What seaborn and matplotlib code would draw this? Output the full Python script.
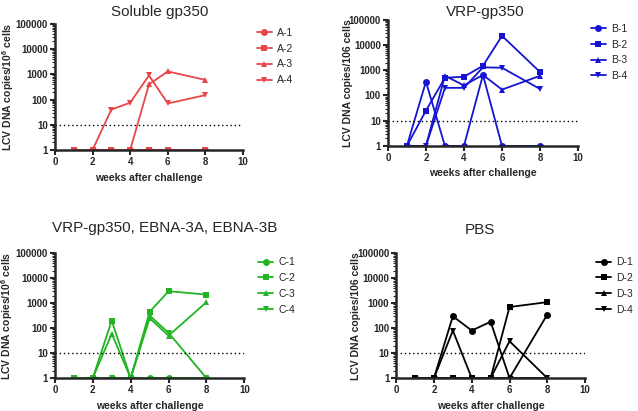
import numpy as np
import pandas as pd
import matplotlib
matplotlib.use("Agg")
import matplotlib.pyplot as plt
import seaborn as sns
from matplotlib.ticker import LogLocator, FixedLocator, FixedFormatter

sns.set_style("ticks")
plt.rcParams['font.family'] = ['Liberation Sans', 'DejaVu Sans']
plt.rcParams['mathtext.fontset'] = 'custom'
plt.rcParams['mathtext.rm'] = 'Liberation Sans:bold'
plt.rcParams['mathtext.bf'] = 'Liberation Sans:bold'

weeks = [1, 2, 3, 4, 5, 6, 8]

# Soluble gp350
a1 = [1, 1, 1, 1, 1, 1, 1]
a2 = [1, 1, 1, 1, 1, 1, 1]
a3 = [1, 1, 1, 1, 400, 1300, 600]
a4 = [1, 1, 40, 75, 900, 70, 150]

# VRP-gp350
b1 = [1, 350, 1, 1, 650, 1, 1]
b2 = [1, 25, 500, 550, 1500, 23000, 850]
b3 = [1, 1, 600, 250, 650, 170, 600]
b4 = [1, 1, 200, 200, 1300, 1250, 180]

# VRP-gp350, EBNA-3A, EBNA-3B
c1 = [1, 1, 1, 1, 1, 1, 1]
c2 = [1, 1, 200, 1, 450, 3000, 2200]
c3 = [1, 1, 60, 1, 250, 50, 1100]
c4 = [1, 1, 1, 1, 320, 65, 1]

# PBS
d1 = [1, 1, 300, 80, 180, 1, 350]
d2 = [1, 1, 1, 1, 1, 700, 1100]
d3 = [1, 1, 1, 1, 1, 1, 1]
d4 = [1, 1, 80, 1, 1, 30, 1]

titles = ["Soluble gp350", "VRP-gp350", "VRP-gp350, EBNA-3A, EBNA-3B", "PBS"]
ylabels = ["LCV DNA copies/10$^{6}$ cells", "LCV DNA copies/106 cells",
           "LCV DNA copies/10$^{6}$ cells", "LCV DNA copies/106 cells"]
prefixes = ["A", "B", "C", "D"]
colors = ["#E8474A", "#1414D2", "#22B422", "#000000"]
series = [[a1, a2, a3, a4], [b1, b2, b3, b4], [c1, c2, c3, c4], [d1, d2, d3, d4]]
markers = ["o", "s", "^", "v"]

W, H = 638, 411
# axes rectangles (figure fractions)
rects = [[0.086, 0.635, 0.295, 0.307],
         [0.608, 0.645, 0.298, 0.307],
         [0.086, 0.080, 0.297, 0.304],
         [0.621, 0.080, 0.296, 0.304]]
# title centres in pixels
title_pos = [(160, 12), (485, 12), (165, 228), (480, 230)]
# y-label x position in axes coords (right edge of rotated label)
ylab_x = [-0.208, -0.184, -0.208, -0.185]
leg_x = [1.05, 1.045, 1.05, 1.037]

fig = plt.figure(figsize=(6.38, 4.11), dpi=100)

for k in range(4):
    ax = fig.add_axes(rects[k])
    rows = []
    for i, vals in enumerate(series[k]):
        for w, v in zip(weeks, vals):
            rows.append({"week": w, "copies": v, "animal": f"{prefixes[k]}-{i+1}"})
    df = pd.DataFrame(rows)
    sns.lineplot(data=df, x="week", y="copies", hue="animal", style="animal",
                 markers=markers, dashes=False, palette=[colors[k]] * 4,
                 markersize=5, markeredgewidth=0, linewidth=1.3, ax=ax)
    ax.set_yscale("log")
    ax.set_ylim(1, 100000)
    ax.set_xlim(0, 10)
    ax.axhline(10, color="black", linestyle=(0, (1, 2)), linewidth=1.0)
    ax.yaxis.set_major_locator(FixedLocator([1, 10, 100, 1000, 10000, 100000]))
    ax.yaxis.set_major_formatter(FixedFormatter(["1", "10", "100", "1000", "10000", "100000"]))
    ax.yaxis.set_minor_locator(LogLocator(base=10, subs=np.arange(2, 10)))
    ax.set_xticks([0, 2, 4, 6, 8, 10])
    for sp in ["top", "right"]:
        ax.spines[sp].set_visible(False)
    for sp in ["left", "bottom"]:
        ax.spines[sp].set_linewidth(1.8)
    ax.tick_params(axis="both", which="major", direction="out", length=3.5, width=1.5,
                   labelsize=7, pad=1.5)
    ax.tick_params(axis="y", which="minor", direction="out", length=2, width=0.8)
    for lab in ax.get_xticklabels() + ax.get_yticklabels():
        lab.set_fontweight("bold")
    ax.set_xlabel("weeks after challenge", fontsize=7.5, fontweight="bold", labelpad=4)
    ax.set_ylabel(ylabels[k], fontsize=7.5, fontweight="bold")
    ax.yaxis.set_label_coords(ylab_x[k], 0.5)
    tx, ty = title_pos[k]
    fig.text(tx / W, 1 - ty / H, titles[k], fontsize=11, ha="center", va="center")
    leg = ax.legend(loc="upper left", bbox_to_anchor=(leg_x[k], 1.0), frameon=False,
                    fontsize=7.5, handlelength=1.45, handletextpad=0.5,
                    labelspacing=0.55, borderaxespad=0)
    for h in leg.legend_handles:
        h.set_markersize(5)

fig.savefig("out.png", dpi=100)
